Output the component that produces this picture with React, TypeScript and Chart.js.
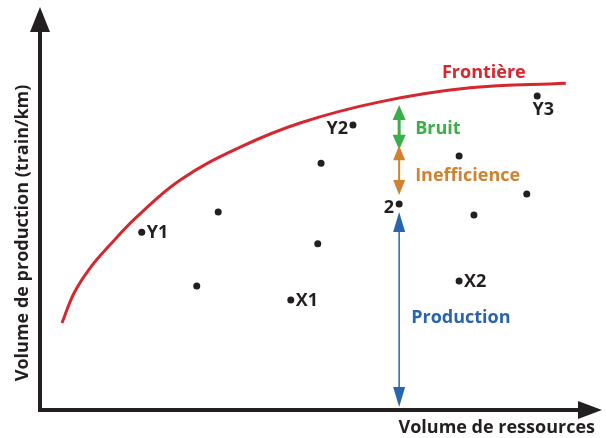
import { useEffect, useRef } from 'react';
import { Chart, registerables } from 'chart.js';
Chart.register(...registerables);

// Frontier curve (data units: 0-100 on both axes)
const frontierX = [4.0, 6.2, 9.1, 12.7, 17.6, 25.5, 36.4, 47.3, 61.8, 78.2, 95.6];
const frontierY = [22.3, 30.0, 36.4, 42.3, 49.5, 59.0, 67.4, 73.6, 79.0, 82.6, 83.8];

// Observed firms
const firmX = [18.5, 32.4, 28.5, 45.6, 50.5, 51.1, 56.9, 65.3, 76.2, 78.9, 88.5, 76.2, 90.4];
const firmY = [45.6, 50.8, 31.8, 28.2, 42.6, 63.3, 73.1, 52.8, 65.1, 50.0, 55.4, 33.1, 80.5];
const firmLabels = ['Y1', '', '', 'X1', '', '', 'Y2', '2', '', '', '', 'X2', 'Y3'];
const firmLabelSide = ['right', '', '', 'right', '', '', 'left', 'left', '', '', '', 'right', 'below'];

// Decomposition arrows at firm "2"
const decompX = 65.3;
const noiseRange = [78.2, 66.7];
const inefficiencyRange = [67.9, 55.1];
const productionRange = [50.8, 0.8];

const frontierLabel = 'Frontière';
const noiseLabel = 'Bruit';
const inefficiencyLabel = 'Inefficience';
const productionLabel = 'Production';
const xTitle = 'Volume de ressources';
const yTitle = 'Volume de production (train/km)';

const FONT = '"Open Sans", sans-serif';
const RED = '#d6262e';
const GREEN = '#3aae48';
const ORANGE = '#d0822e';
const BLUE = '#2a63ae';
const INK = '#231f20';

function arrowHead(ctx: CanvasRenderingContext2D, x: number, tipY: number, dir: number, len: number, w: number, color: string) {
  ctx.fillStyle = color;
  ctx.beginPath();
  ctx.moveTo(x, tipY);
  ctx.lineTo(x - w / 2, tipY + dir * len);
  ctx.lineTo(x + w / 2, tipY + dir * len);
  ctx.closePath();
  ctx.fill();
}

function doubleArrow(ctx: CanvasRenderingContext2D, x: number, yTop: number, yBot: number, color: string, lw: number, len: number, w: number) {
  ctx.strokeStyle = color;
  ctx.lineWidth = lw;
  ctx.beginPath();
  ctx.moveTo(x, yTop + len - 1);
  ctx.lineTo(x, yBot - len + 1);
  ctx.stroke();
  arrowHead(ctx, x, yTop, 1, len, w, color);
  arrowHead(ctx, x, yBot, -1, len, w, color);
}

const annotationPlugin = {
  id: 'annotations',
  afterDatasetsDraw(chart: any) {
    const ctx: CanvasRenderingContext2D = chart.ctx;
    const xs = chart.scales.x;
    const ys = chart.scales.y;
    const area = chart.chartArea;
    ctx.save();

    // Axes with arrows
    ctx.strokeStyle = INK;
    ctx.fillStyle = INK;
    ctx.lineWidth = 4;
    ctx.beginPath();
    ctx.moveTo(area.left, area.bottom + 2);
    ctx.lineTo(area.left, area.top);
    ctx.stroke();
    ctx.beginPath();
    ctx.moveTo(area.left - 2, area.bottom);
    ctx.lineTo(area.right, area.bottom);
    ctx.stroke();
    ctx.beginPath();
    ctx.moveTo(area.left, area.top - 13);
    ctx.lineTo(area.left - 10, area.top + 12);
    ctx.lineTo(area.left + 10, area.top + 12);
    ctx.closePath();
    ctx.fill();
    ctx.beginPath();
    ctx.moveTo(area.right + 12, area.bottom);
    ctx.lineTo(area.right - 12, area.bottom - 9);
    ctx.lineTo(area.right - 12, area.bottom + 9);
    ctx.closePath();
    ctx.fill();

    // Decomposition arrows
    const ax = xs.getPixelForValue(decompX);
    doubleArrow(ctx, ax, ys.getPixelForValue(noiseRange[0]), ys.getPixelForValue(noiseRange[1]), GREEN, 3, 15, 13);
    doubleArrow(ctx, ax, ys.getPixelForValue(inefficiencyRange[0]), ys.getPixelForValue(inefficiencyRange[1]), ORANGE, 2, 15, 12);
    doubleArrow(ctx, ax, ys.getPixelForValue(productionRange[0]), ys.getPixelForValue(productionRange[1]), BLUE, 1.5, 20, 12);

    // Texts
    ctx.textBaseline = 'middle';
    ctx.font = `bold 18px ${FONT}`;
    ctx.fillStyle = RED;
    ctx.textAlign = 'center';
    ctx.fillText(frontierLabel, xs.getPixelForValue(80.7), ys.getPixelForValue(86.4));
    ctx.textAlign = 'left';
    ctx.fillStyle = GREEN;
    ctx.fillText(noiseLabel, ax + 16, ys.getPixelForValue((noiseRange[0] + noiseRange[1]) / 2) + 1);
    ctx.fillStyle = ORANGE;
    ctx.fillText(inefficiencyLabel, ax + 16, ys.getPixelForValue((inefficiencyRange[0] + inefficiencyRange[1]) / 2) + 6);
    ctx.fillStyle = BLUE;
    ctx.fillText(productionLabel, ax + 12, ys.getPixelForValue(23.6));

    // Firm labels
    ctx.fillStyle = INK;
    firmLabels.forEach((lab, i) => {
      if (!lab) return;
      const px = xs.getPixelForValue(firmX[i]);
      const py = ys.getPixelForValue(firmY[i]);
      const side = firmLabelSide[i];
      if (side === 'right') {
        ctx.textAlign = 'left';
        ctx.fillText(lab, px + 5, py + 1);
      } else if (side === 'left') {
        ctx.textAlign = 'right';
        ctx.fillText(lab, px - 5, py + 4);
      } else {
        ctx.textAlign = 'center';
        ctx.fillText(lab, px + 6, py + 14);
      }
    });

    // Axis titles
    ctx.fillStyle = INK;
    ctx.textAlign = 'right';
    ctx.fillText(xTitle, area.right + 5, area.bottom + 18);
    ctx.save();
    ctx.translate(area.left - 17, ys.getPixelForValue(45.4));
    ctx.rotate(-Math.PI / 2);
    ctx.textAlign = 'center';
    ctx.fillText(yTitle, 0, 0);
    ctx.restore();

    ctx.restore();
  },
};

export default function App() {
  const ref = useRef<HTMLCanvasElement | null>(null);
  useEffect(() => {
    if (!ref.current) return;
    const chart = new Chart(ref.current, {
      type: 'scatter',
      data: {
        datasets: [
          {
            type: 'line',
            data: frontierX.map((x, i) => ({ x, y: frontierY[i] })),
            borderColor: RED,
            borderWidth: 3,
            pointRadius: 0,
            tension: 0.4,
            fill: false,
          } as any,
          {
            data: firmX.map((x, i) => ({ x, y: firmY[i] })),
            backgroundColor: INK,
            borderColor: INK,
            pointRadius: 3.5,
            borderWidth: 0,
          },
        ],
      },
      options: {
        responsive: false,
        animation: false,
        layout: { padding: { left: 40, right: 16, top: 20, bottom: 28 } },
        scales: {
          x: { type: 'linear', min: 0, max: 100, display: false },
          y: { type: 'linear', min: 0, max: 100, display: false },
        },
        plugins: { legend: { display: false }, tooltip: { enabled: false } },
      },
      plugins: [annotationPlugin],
    });
    return () => chart.destroy();
  }, []);
  return (
    <div style={{ position: 'absolute', left: 0, top: 0, width: 606, height: 438, background: '#fff' }}>
      <canvas ref={ref} width={606} height={438} />
    </div>
  );
}
